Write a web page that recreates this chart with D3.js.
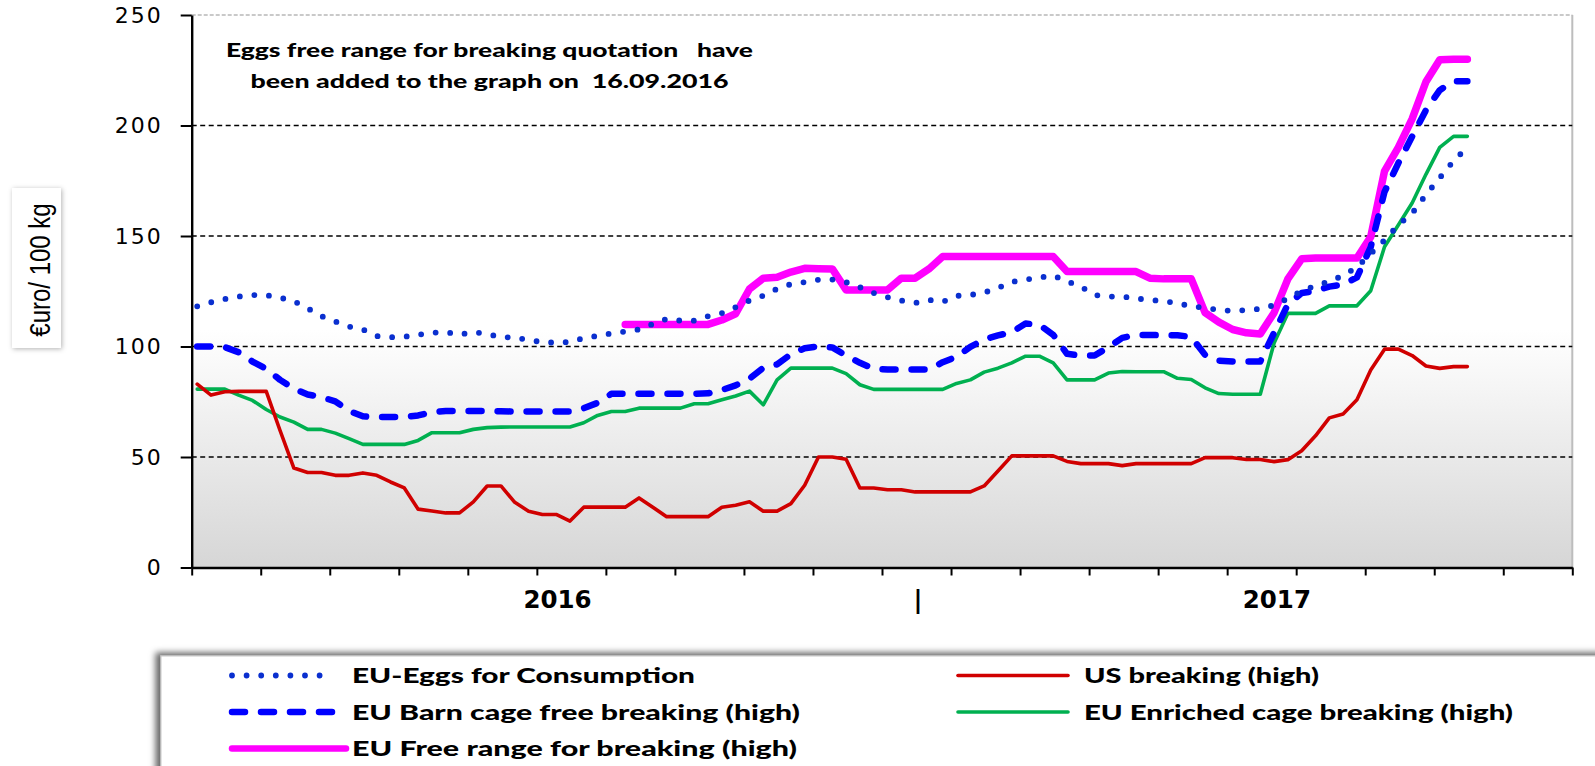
<!DOCTYPE html>
<html lang="en">
<head>
  <meta charset="UTF-8">
  <title>Egg prices</title>
  <script src="https://cdn.jsdelivr.net/npm/d3@7/dist/d3.min.js"></script>
  <style>
    body { margin: 0; background: #fff; }
    svg { display: block; }
  </style>
</head>
<body>
  <svg></svg>
  <script>
    const width = 1595;
    const height = 766;

    // axis values
    const yTicks = [0, 50, 100, 150, 200, 250];
    const gridValues = [50, 100, 150, 200];
    const yearLabels = ["2016", "|", "2017"];
    const yearLabelAt = [26.5, 52.6, 78.6]; // in weeks from start

    // weekly quotations, euro / 100 kg
    const consumption = [118.2, 120, 121.5, 122.6, 123.3, 123.2, 122.1, 120.5, 117.3, 113.7, 111.3, 109, 107.7, 104.7, 104.2, 104.4, 105.3, 106.2, 106.5, 105.4, 106.5, 105.7, 104.2,
      104.1, 102.9, 102, 101.7, 102.1, 103.8, 104.8, 105.9, 106.8, 107.7, 110.2, 112.5, 111.7, 111.7, 113.7, 115.1, 117.8, 120.8, 123, 126.1, 128.2, 129.1, 130.2, 130.3,
      129.1, 126.8, 124.2, 122.3, 120.8, 119.7, 121.1, 120.2, 122.9, 123.3, 124.4, 126.5, 129.2, 130.3, 131.2, 132.1, 129.5, 127.1, 123.3, 122.6, 122.6, 121.7,
      121.1, 120.5, 119.6, 118.2, 117.5, 116.5, 116.1, 116.5, 117, 118.7, 121.7, 125.2, 127.5, 129.4, 132.1, 135.9, 142, 148.1, 155, 160.3, 168.7, 176.3, 184, 190.1];

    const barn = [100, 100, 99.7, 97.4, 93.2, 89.9, 84.9, 80.9, 78.3, 77.1, 75.2, 70.8, 68.4, 68.1, 68.1, 68.1, 68.8, 70.3, 70.8, 70.8, 70.8, 70.8, 70.7,
      70.6, 70.6, 70.6, 70.6, 70.6, 72.1, 74.5, 78.6, 78.6, 78.6, 78.6, 78.6, 78.6, 78.6, 78.8, 80.3, 82.4, 85.4, 90.4, 91.9, 96.5, 99.2, 100, 99.6,
      95.9, 92.6, 89.9, 89.6, 89.6, 89.6, 89.6, 92.9, 95.3, 99.8, 103.2, 105, 106.5, 110.4, 109.8, 105.3, 96.7, 95.9, 95.9, 99.7, 103.9, 105.2,
      105.2, 105.1, 105.1, 104.3, 96.2, 93.6, 93.2, 93.2, 93.2, 106.2, 119.1, 124.2, 125.2, 127.1, 128, 131.3, 145, 170, 183, 195, 207, 216, 220, 220];

    const freeRange = [null, null, null, null, null, null, null, null, null, null, null, null, null, null, null, null, null, null, null, null, null, null, null,
      null, null, null, null, null, null, null, null, 110, 110, 110, 110, 110, 110, 110, 112, 114.8, 126, 130.9, 131.3, 133.7, 135.4, 135.2, 135.1,
      125.6, 125.6, 125.6, 125.6, 130.9, 130.9, 135.1, 140.7, 140.7, 140.7, 140.7, 140.7, 140.7, 140.7, 140.7, 140.7, 133.9, 133.9, 133.9, 133.9, 133.9, 133.9,
      130.9, 130.6, 130.6, 130.6, 115.3, 111, 107.7, 106.2, 105.7, 115.3, 130.6, 139.7, 140, 140, 140, 140, 149.6, 179.4, 190.1, 203, 219.8, 229.8, 230, 230];

    const usBreaking = [83, 78, 79.5, 79.7, 79.7, 79.7, 62, 45, 43, 43, 41.7, 41.7, 42.8, 41.7, 38.7, 36, 26.4, 25.6, 24.7, 24.7, 29.7, 36.9, 36.9,
      29.5, 25.5, 24, 24, 21, 27.3, 27.3, 27.3, 27.3, 31.5, 27.3, 23, 23, 23, 23, 27.3, 28.2, 29.7, 25.5, 25.5, 28.9, 37.2, 50, 50,
      49, 36, 36, 35.2, 35.2, 34.2, 34.2, 34.2, 34.2, 34.2, 36.9, 43.7, 50.5, 50.5, 50.5, 50.5, 48, 47, 47, 47, 46.1, 47,
      47, 47, 47, 47, 49.7, 49.7, 49.7, 48.9, 48.9, 47.9, 48.8, 52.8, 59.6, 67.7, 69.5, 75.9, 89.4, 98.8, 98.8, 95.9, 91.2, 90.1, 90.9, 90.9];

    const enriched = [80.7, 80.7, 80.7, 78, 75.6, 71.5, 68.1, 65.8, 62.5, 62.5, 60.8, 58.3, 55.7, 55.7, 55.7, 55.7, 57.5, 61, 61, 61, 62.5, 63.3, 63.5,
      63.6, 63.6, 63.6, 63.6, 63.6, 65.5, 68.8, 70.6, 70.6, 72.1, 72.1, 72.1, 72.1, 74.1, 74.1, 75.9, 77.6, 79.8, 73.6, 84.9, 90.2, 90.2, 90.2, 90.2,
      87.7, 82.7, 80.6, 80.6, 80.6, 80.6, 80.6, 80.6, 83.3, 84.9, 88.4, 90.2, 92.6, 95.6, 95.6, 92.6, 84.9, 84.9, 84.9, 88, 88.7, 88.6,
      88.6, 88.6, 85.6, 85.1, 81.3, 78.7, 78.4, 78.4, 78.4, 101.6, 115, 115, 115, 118.4, 118.4, 118.4, 125.2, 145.1, 155, 164.9, 177.9, 190.1, 195.1, 195.1];

    const seriesNames = [
      "EU-Eggs for Consumption",
      "EU Barn cage free breaking (high)",
      "EU Free range for breaking (high)",
      "US breaking (high)",
      "EU Enriched cage breaking (high)"
    ];

    const annotation = [
      "Eggs free range for breaking quotation   have",
      "been added to the graph on  16.09.2016"
    ];
    const yTitle = "€uro/ 100 kg";

    // line styles, in drawing order (bottom first)
    // legend: [column, row, sample length, text length]
    const series = [
      { name: seriesNames[2], values: freeRange, color: "#ff00ff", width: 7.5, dash: null, legend: [0, 2, 114, 445] },
      { name: seriesNames[4], values: enriched, color: "#00b050", width: 3.6, dash: null, legend: [1, 1, 110, 429] },
      { name: seriesNames[3], values: usBreaking, color: "#d00000", width: 3.6, dash: null, legend: [1, 0, 110, 235] },
      { name: seriesNames[1], values: barn, color: "#0000ff", width: 6.5, dash: "13,16", legend: [0, 1, 111, 448] },
      { name: seriesNames[0], values: consumption, color: "#0a2fcf", width: 5.8, dash: "0,14.6", legend: [0, 0, 98, 343] }
    ];

    const plot = { left: 191.7, right: 1572.3, top: 15, bottom: 567.5 };

    const x = d3.scaleLinear().domain([0, 100]).range([plot.left, plot.right]);
    const y = d3.scaleLinear().domain([0, 250]).range([plot.bottom, plot.top]);

    const svg = d3.select("svg").attr("width", width).attr("height", height);
    const defs = svg.append("defs");

    const grad = defs.append("linearGradient").attr("id", "bg")
      .attr("x1", 0).attr("y1", 0).attr("x2", 0).attr("y2", 1);
    grad.append("stop").attr("offset", 0).attr("stop-color", "#ffffff");
    grad.append("stop").attr("offset", 0.57).attr("stop-color", "#ffffff");
    grad.append("stop").attr("offset", 1).attr("stop-color", "#d6d6d6");

    const shadowA = defs.append("filter").attr("id", "shadowLegend")
      .attr("x", "-5%").attr("y", "-30%").attr("width", "110%").attr("height", "160%");
    shadowA.append("feDropShadow").attr("dx", -5).attr("dy", -3).attr("stdDeviation", 3)
      .attr("flood-color", "#000").attr("flood-opacity", 0.6);

    const shadowB = defs.append("filter").attr("id", "shadowTitle")
      .attr("x", "-40%").attr("y", "-20%").attr("width", "180%").attr("height", "140%");
    shadowB.append("feDropShadow").attr("dx", 1).attr("dy", 1).attr("stdDeviation", 2.5)
      .attr("flood-color", "#000").attr("flood-opacity", 0.3);

    // plot background
    svg.append("rect")
      .attr("x", plot.left).attr("y", plot.top)
      .attr("width", plot.right - plot.left).attr("height", plot.bottom - plot.top)
      .attr("fill", "url(#bg)");

    // top and right border
    svg.append("line")
      .attr("x1", plot.left).attr("x2", plot.right).attr("y1", plot.top).attr("y2", plot.top)
      .attr("stroke", "#b8b8b8").attr("stroke-width", 1.5).attr("stroke-dasharray", "4,2");
    svg.append("line")
      .attr("x1", plot.right).attr("x2", plot.right).attr("y1", plot.top).attr("y2", plot.bottom)
      .attr("stroke", "#bdbdbd").attr("stroke-width", 2);

    // grid lines
    svg.append("g").selectAll("line").data(gridValues).enter().append("line")
      .attr("x1", plot.left).attr("x2", plot.right)
      .attr("y1", d => y(d)).attr("y2", d => y(d))
      .attr("stroke", "#000").attr("stroke-width", 1.7).attr("stroke-dasharray", "5,3.5");

    // series
    const line = d3.line()
      .defined(d => d != null)
      .x((d, i) => x(i + 0.4))
      .y(d => y(d));

    svg.append("g").selectAll("path").data(series).enter().append("path")
      .attr("d", d => line(d.values))
      .attr("fill", "none")
      .attr("stroke", d => d.color)
      .attr("stroke-width", d => d.width)
      .attr("stroke-dasharray", d => d.dash)
      .attr("stroke-linecap", "round")
      .attr("stroke-linejoin", "round");

    // axes
    const yAxis = svg.append("g")
      .attr("transform", `translate(${plot.left},0)`)
      .call(d3.axisLeft(y).tickValues(yTicks).tickSize(11).tickSizeOuter(0).tickPadding(18));
    yAxis.select(".domain").attr("stroke-width", 2.4);
    yAxis.selectAll(".tick line").attr("stroke-width", 2);
    yAxis.selectAll("text")
      .style("font-family", "'DejaVu Sans', Verdana, sans-serif")
      .style("font-size", "22px")
      .style("letter-spacing", "2px")
      .attr("fill", "#000");

    const xAxis = svg.append("g")
      .attr("transform", `translate(0,${plot.bottom})`)
      .call(d3.axisBottom(x).tickValues(d3.range(0, 101, 5)).tickSize(8).tickSizeOuter(0).tickFormat(""));
    xAxis.select(".domain").attr("stroke-width", 2.4);
    xAxis.selectAll(".tick line").attr("stroke-width", 2);

    svg.append("g").selectAll("text").data(yearLabels).enter().append("text")
      .attr("x", (d, i) => x(yearLabelAt[i]))
      .attr("y", 608)
      .attr("text-anchor", "middle")
      .style("font-family", "'DejaVu Sans', Verdana, sans-serif")
      .style("font-weight", "bold")
      .style("font-size", "24.5px")
      .text(d => d);

    // annotation
    const annoLen = [527, 478];
    svg.append("g").selectAll("text").data(annotation).enter().append("text")
      .attr("x", 489.5)
      .attr("y", (d, i) => 57 + i * 30.5)
      .attr("text-anchor", "middle")
      .attr("textLength", (d, i) => annoLen[i])
      .attr("lengthAdjust", "spacingAndGlyphs")
      .style("font-family", "Lato, 'Open Sans', sans-serif")
      .style("font-weight", "900")
      .style("font-size", "19px")
      .style("white-space", "pre")
      .text(d => d);

    // y axis title box
    svg.append("rect")
      .attr("x", 12).attr("y", 188).attr("width", 49).attr("height", 160)
      .attr("fill", "#fff").attr("filter", "url(#shadowTitle)");
    svg.append("text")
      .attr("transform", "translate(50,270) scale(1.25,1) rotate(-90)")
      .attr("text-anchor", "middle")
      .style("font-family", "'Liberation Sans', Arial, sans-serif")
      .style("font-size", "24px")
      .text(yTitle);

    // legend
    const legend = svg.append("g");
    legend.append("rect")
      .attr("x", 161).attr("y", 656).attr("width", 1460).attr("height", 130)
      .attr("fill", "#fff").attr("stroke", "#c8c8c8").attr("stroke-width", 1)
      .attr("filter", "url(#shadowLegend)");

    const colSample = [232, 958];
    const colText = [352, 1084];
    const rowY = [675.5, 712, 748.5];

    const items = legend.selectAll("g.item").data(series).enter().append("g").attr("class", "item");
    items.append("line")
      .attr("x1", d => colSample[d.legend[0]])
      .attr("x2", d => colSample[d.legend[0]] + d.legend[2])
      .attr("y1", d => rowY[d.legend[1]])
      .attr("y2", d => rowY[d.legend[1]])
      .attr("stroke", d => d.color)
      .attr("stroke-width", d => Math.min(d.width, 6.5))
      .attr("stroke-dasharray", d => d.dash)
      .attr("stroke-linecap", "round");
    items.append("text")
      .attr("x", d => colText[d.legend[0]])
      .attr("y", d => rowY[d.legend[1]] + 7.5)
      .attr("textLength", d => d.legend[3])
      .attr("lengthAdjust", "spacingAndGlyphs")
      .style("font-family", "Lato, 'Open Sans', sans-serif")
      .style("font-weight", "900")
      .style("font-size", "21px")
      .text(d => d.name);
  </script>
</body>
</html>
